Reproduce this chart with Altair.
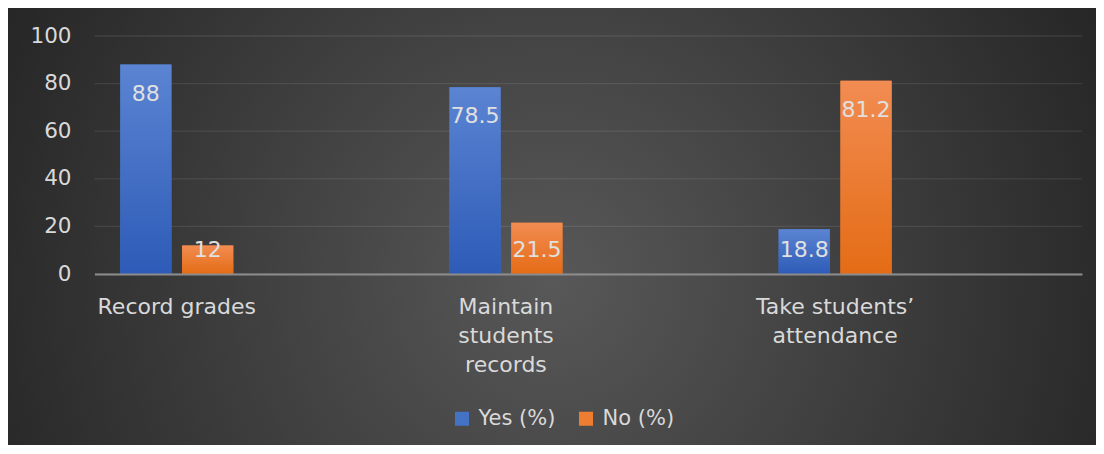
import json
import altair as alt
import pandas as pd

# ---- data ----
categories = ["Record grades", "Maintain students records", "Take students’ attendance"]
category_lines = [["Record grades"], ["Maintain", "students", "records"], ["Take students’", "attendance"]]
series = ["Yes (%)", "No (%)"]
yes_values = [88, 78.5, 18.8]
no_values = [12, 21.5, 81.2]
y_ticks = [0, 20, 40, 60, 80, 100]

rows = []
for c, y, n in zip(categories, yes_values, no_values):
    rows.append({"category": c, "series": series[0], "value": y})
    rows.append({"category": c, "series": series[1], "value": n})
df = pd.DataFrame(rows)

# ---- layout ----
W, H = 987.5, 238
PAD_L, PAD_T, PAD_R, PAD_B = 86.5, 28, 14, 171
FONT = "DejaVu Sans"
TXT = "#d9d9d9"

bg_grad = {
    "gradient": "radial",
    "x1": 0.5, "y1": 0.55, "r1": 0,
    "x2": 0.5, "y2": 0.55, "r2": 0.55,
    "stops": [
        {"offset": 0, "color": "#585858"},
        {"offset": 1, "color": "#272727"},
    ],
}
grad_blue = {
    "gradient": "linear", "x1": 0, "y1": 0, "x2": 0, "y2": 1,
    "stops": [{"offset": 0, "color": "#5b84d2"}, {"offset": 1, "color": "#2d5bb7"}],
}
grad_orange = {
    "gradient": "linear", "x1": 0, "y1": 0, "x2": 0, "y2": 1,
    "stops": [{"offset": 0, "color": "#f28c52"}, {"offset": 1, "color": "#e46c15"}],
}

label_expr = ""
for c, lines in zip(categories[:-1], category_lines[:-1]):
    label_expr += f"datum.value === {json.dumps(c)} ? {json.dumps(lines)} : "
label_expr += json.dumps(category_lines[-1])

yscale = alt.Scale(domain=[0, 100], nice=False, zero=True)
xscale = alt.Scale(domain=categories, paddingInner=0.5, paddingOuter=0.25, align=0)
offscale = alt.Scale(domain=series, paddingInner=0.173, paddingOuter=0.417)

x_enc = alt.X(
    "category:N", scale=xscale, sort=categories, title=None,
    axis=alt.Axis(
        labelExpr=label_expr, labelAngle=0, labelFont=FONT, labelFontSize=22,
        labelColor=TXT, labelPadding=22, labelLineHeight=29, labelBaseline="top",
        ticks=False, domain=True, domainColor="#8c8c8c", domainWidth=2,
        grid=False, zindex=1, labelLimit=0,
    ),
)
y_axis = alt.Axis(
    values=y_ticks, grid=False, domain=False, ticks=False, labelFont=FONT,
    labelFontSize=21.5, labelColor=TXT, labelPadding=23.5, zindex=1,
)
xoff = alt.XOffset("series:N", scale=offscale, sort=series)

bg = alt.Chart(alt.Data(values=[{"k": 1}])).mark_rect(fill=bg_grad).encode(
    x=alt.value(-PAD_L), x2=alt.value(W + PAD_R),
    y=alt.value(-PAD_T), y2=alt.value(H + PAD_B),
)

grid = alt.Chart(alt.Data(values=[{"value": v} for v in y_ticks])).mark_rule(
    stroke="white", strokeOpacity=0.09, strokeWidth=1.3
).encode(
    y=alt.Y("value:Q", scale=yscale, title=None, axis=y_axis),
    x=alt.value(0), x2=alt.value(W),
)

base = alt.Chart(df).encode(
    x=x_enc, xOffset=xoff,
    y=alt.Y("value:Q", scale=yscale, title=None, axis=y_axis),
)

bars_flat = base.mark_bar().encode(
    color=alt.Color(
        "series:N", scale=alt.Scale(domain=series, range=["#4472c4", "#ed7d31"]),
        legend=alt.Legend(
            title=None, orient="none", legendX=357, legendY=372, direction="horizontal",
            symbolType="square", symbolSize=196, symbolStrokeWidth=0,
            labelFont=FONT, labelFontSize=21, labelColor=TXT, labelOffset=6,
            columnPadding=20, padding=0,
        ),
    )
)

bars_grad = base.mark_bar().encode(
    fill=alt.condition(f"datum.series === '{series[0]}'", alt.value(grad_blue), alt.value(grad_orange))
)

labels = base.transform_calculate(
    ly="max(datum.value - 12.3, 10.1)"
).mark_text(font=FONT, fontSize=22, color="#e0e0e0", baseline="middle").encode(
    y=alt.Y("ly:Q", scale=yscale, title=None, axis=y_axis),
    text=alt.Text("value:Q", format="~g"),
)

chart = alt.layer(bg, grid, bars_flat, bars_grad, labels).properties(
    width=W, height=H,
    padding={"left": PAD_L, "top": PAD_T, "right": PAD_R, "bottom": PAD_B},
    autosize=alt.AutoSizeParams(type="none"),
    background="#272727",
).configure_view(stroke=None)

chart.save("out.html", embed_options={"renderer": "svg", "actions": False})
